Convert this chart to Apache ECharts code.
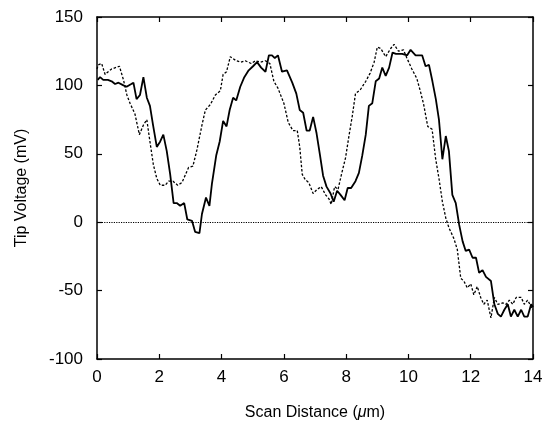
<!DOCTYPE html>
<html>
<head>
<meta charset="utf-8">
<script src="https://cdn.jsdelivr.net/npm/echarts@6/dist/echarts.min.js"></script>
<style>html,body{margin:0;padding:0;background:#fff}#c{width:549px;height:427px}</style>
</head>
<body>
<div id="c"></div>
<script>
const xTicks = [0, 2, 4, 6, 8, 10, 12, 14];
const yTicks = [-100, -50, 0, 50, 100, 150];

const solidX = [0.02,0.1,0.2,0.35,0.47,0.58,0.69,0.85,0.95,1.1,1.17,1.27,1.38,1.49,1.6,1.7,1.8,1.92,2.03,2.13,2.24,2.35,2.46,2.56,2.67,2.8,2.9,3.05,3.15,3.29,3.37,3.5,3.61,3.69,3.83,3.94,4.05,4.16,4.26,4.37,4.47,4.6,4.73,4.87,5.01,5.14,5.27,5.41,5.52,5.62,5.71,5.81,5.94,6.1,6.27,6.4,6.51,6.62,6.73,6.83,6.94,7.05,7.16,7.26,7.37,7.5,7.6,7.71,7.82,7.95,8.05,8.16,8.3,8.41,8.52,8.63,8.73,8.84,8.95,9.06,9.16,9.27,9.38,9.49,9.6,9.7,9.8,9.96,10.07,10.23,10.44,10.55,10.66,10.77,10.88,10.98,11.09,11.2,11.3,11.41,11.52,11.63,11.74,11.84,11.95,12.06,12.17,12.27,12.38,12.49,12.65,12.76,12.87,12.97,13.08,13.19,13.29,13.4,13.51,13.62,13.72,13.83,13.94,14];
const solidY = [104,106,104,104,103,101,102,100,99,101,102,90,93,106,91,85,71,55,59,64,52,35,14,14,12,14,2,1,-7,-8,6,18,12,28,49,59,74,70,82,91,89,99,106,111,114,117,113,110,122,122,120,122,110,111,102,94,82,80,67,67,77,65,49,34,26,21,15,23,20,16,25,25,30,36,49,64,85,87,103,105,113,107,113,124,123,123,123,122,126,122,122,114,115,103,90,75,46,63,52,20,14,-2,-14,-21,-20,-26,-26,-37,-35,-40,-43,-60,-67,-69,-64,-60,-69,-64,-69,-64,-69,-69,-60,-62];

const dashX = [0,0.04,0.15,0.26,0.36,0.47,0.72,0.85,0.96,1.06,1.22,1.36,1.49,1.6,1.68,1.81,1.92,2.03,2.19,2.3,2.44,2.59,2.73,2.94,3.08,3.21,3.37,3.48,3.64,3.8,3.96,4.05,4.16,4.28,4.47,4.62,4.76,4.95,5.09,5.25,5.41,5.55,5.68,5.81,6.0,6.14,6.29,6.43,6.51,6.59,6.69,6.8,6.94,7.07,7.2,7.34,7.45,7.52,7.63,7.74,7.85,7.98,8.09,8.2,8.3,8.46,8.63,8.77,8.9,9.0,9.11,9.27,9.43,9.54,9.68,9.84,9.95,10.11,10.27,10.38,10.49,10.62,10.76,10.87,10.98,11.09,11.2,11.3,11.46,11.57,11.68,11.78,11.89,12.0,12.1,12.21,12.32,12.42,12.53,12.65,12.76,12.87,13.03,13.14,13.24,13.35,13.46,13.62,13.72,13.83,13.99];
const dashY = [112,115,116,108,110,112,114,104,93,87,79,64,71,75,62,42,32,27,27,30,30,27,29,40,41,53,71,82,86,93,96,108,110,121,118,117,118,116,118,117,118,116,103,98,87,73,67,67,55,35,31,29,21,24,26,20,17,13,26,24,35,47,63,78,94,97,103,109,117,128,127,121,127,130,125,126,120,112,105,96,86,70,68,47,32,15,3,-4,-12,-20,-41,-43,-48,-45,-53,-47,-55,-60,-57,-70,-55,-60,-59,-60,-57,-60,-55,-55,-60,-57,-64];

const zeroLine = [0];

const font = 'Liberation Sans, Arial, Helvetica, sans-serif';
const pairs = (xs, ys) => xs.map((x, i) => [x, ys[i]]);

const chart = echarts.init(document.getElementById('c'), null, {renderer: 'canvas'});
const axisLine = {show: true, onZero: false, lineStyle: {color: '#000', width: 1.5}};
const tick = {show: true, inside: true, length: 5, lineStyle: {color: '#000', width: 1.2}};

chart.setOption({
  animation: false,
  backgroundColor: '#fff',
  grid: {left: 97, right: 16, top: 17, bottom: 68, containLabel: false},
  xAxis: [
    {type: 'value', min: xTicks[0], max: xTicks[xTicks.length - 1], interval: 2,
     position: 'bottom', axisLine, axisTick: tick, splitLine: {show: false},
     axisLabel: {color: '#000', fontSize: 17, fontFamily: font, margin: 10},
     name: '{n|Scan Distance (}{i|μ}{n|m)}', nameLocation: 'middle', nameGap: 46,
     nameTextStyle: {rich: {n: {fontSize: 16, fontFamily: font, color: '#000'},
                            i: {fontSize: 16, fontFamily: font, fontStyle: 'italic', color: '#000'}}}},
    {type: 'value', min: xTicks[0], max: xTicks[xTicks.length - 1], interval: 2,
     position: 'top', axisLine, axisTick: tick, splitLine: {show: false}, axisLabel: {show: false}}
  ],
  yAxis: [
    {type: 'value', min: yTicks[0], max: yTicks[yTicks.length - 1], interval: 50,
     position: 'left', axisLine, axisTick: tick, splitLine: {show: false},
     axisLabel: {color: '#000', fontSize: 17, fontFamily: font, margin: 14},
     name: 'Tip Voltage (mV)', nameLocation: 'middle', nameGap: 67, nameRotate: 90,
     nameTextStyle: {fontSize: 16, fontFamily: font, color: '#000'}},
    {type: 'value', min: yTicks[0], max: yTicks[yTicks.length - 1], interval: 50,
     position: 'right', axisLine, axisTick: tick, splitLine: {show: false}, axisLabel: {show: false}}
  ],
  series: [
    {type: 'line', data: pairs(dashX, dashY), showSymbol: false, symbol: 'none',
     lineStyle: {color: '#000', width: 1.3, type: [2.5, 1.8]}, z: 3,
     markLine: {silent: true, symbol: 'none', label: {show: false},
       lineStyle: {color: '#000', width: 1, type: [1.2, 1.2]},
       data: zeroLine.map(v => ({yAxis: v}))}},
    {type: 'line', data: pairs(solidX, solidY), showSymbol: false, symbol: 'none',
     lineStyle: {color: '#000', width: 1.8}, z: 4}
  ]
});
</script>
</body>
</html>
